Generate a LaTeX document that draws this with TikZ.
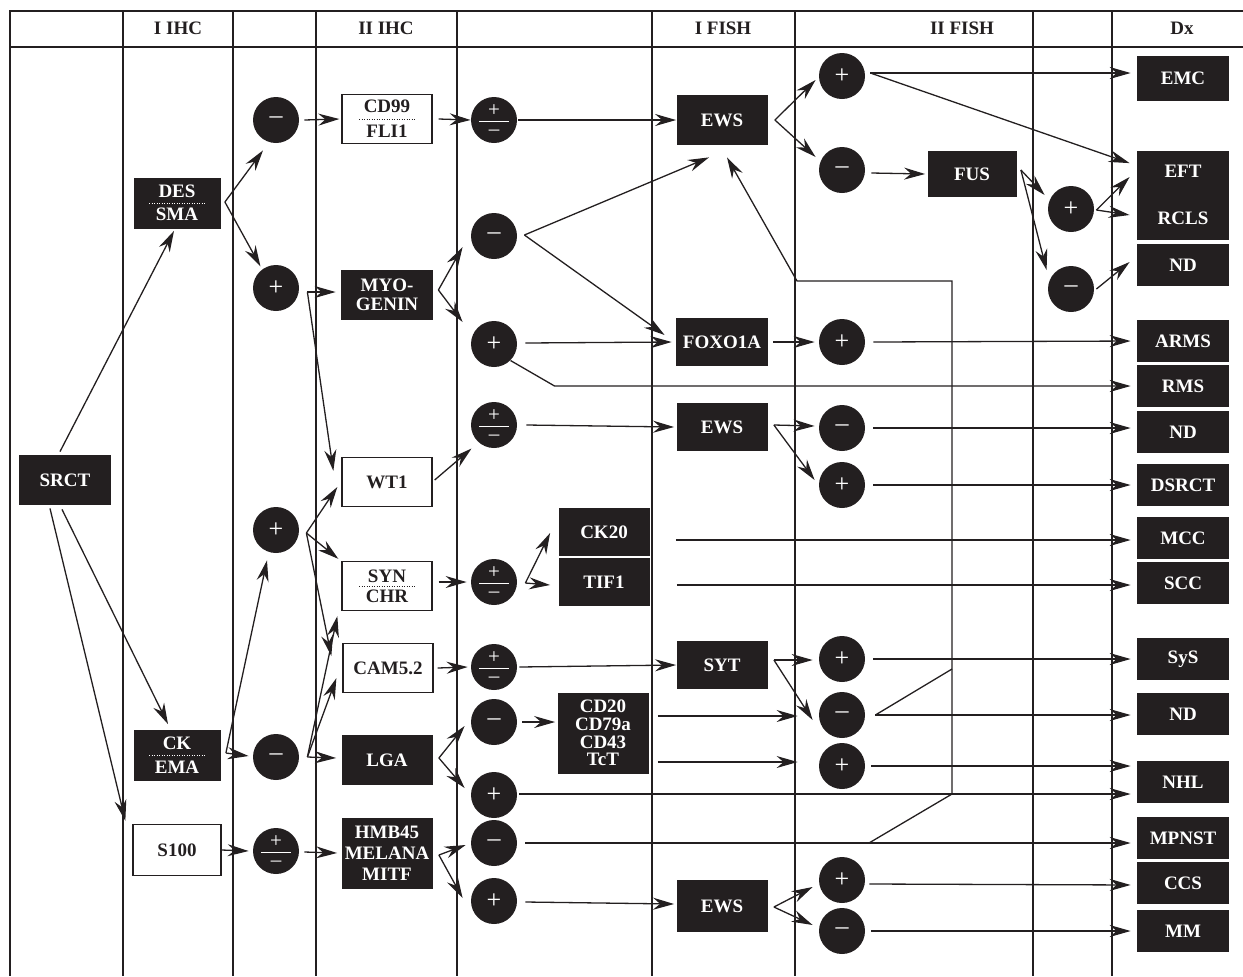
\documentclass[tikz,border=0pt]{standalone}
\usepackage{fontspec}
\setmainfont{Liberation Serif}
\usepackage{tikz}
\usetikzlibrary{arrows.meta,calc}
\definecolor{dxInk}{HTML}{231F20}
\newcommand{\pmsym}{\vbox{\fontsize{10.5}{10.5}\selectfont
  \hbox to 15pt{\hss+\hss}\kern2.2pt\hrule height 0.7pt\kern4.2pt
  \hbox to 15pt{\hss–\hss}}}

\begin{document}
\begin{tikzpicture}[x=0.5pt, y=-0.5pt,
  every node/.style={font=\fontsize{9.5}{11.5}\selectfont\bfseries, text=dxInk},
  blkbox/.style={fill=dxInk, text=white, minimum width=45.5pt, minimum height=25pt, inner sep=1pt, align=center},
  whtbox/.style={draw=dxInk, line width=0.65pt, minimum width=45pt, minimum height=24.5pt, inner sep=1pt, align=center},
  dxbox/.style={blkbox, minimum width=46pt, minimum height=21pt},
  sgn/.style={circle, fill=dxInk, text=white, minimum size=23pt, inner sep=0pt, font=\fontsize{13}{13}\selectfont},
  ln/.style={draw=dxInk, line width=0.65pt},
  arr/.style={ln, -{Stealth[length=10.5pt, width=6pt, inset=3.5pt]}},
  todx/.style={arr, shorten >=3pt},
  colline/.style={draw=dxInk, line width=0.75pt},
  dotsep/.style={line width=0.5pt, dash pattern=on 0.5pt off 0.75pt}]
  \useasboundingbox (0,0) rectangle (1243,976);

  % Column grid
  \draw[colline] (1243,11) -- (10,11) -- (10,976);
  \draw[colline] (10,47) -- (1243,47);
  \foreach \cx in {123,233,316,457,652,795,1033,1112}
    \draw[colline] (\cx,11) -- (\cx,976);

  % Column heads
  \node (hA) at (178,28) {I IHC};
  \node (hB) at (386,28) {II IHC};
  \node (hC) at (723,28) {I FISH};
  \node (hD) at (962,28) {II FISH};
  \node (hE) at (1182,28) {Dx};

  % Start and I IHC
  \node[blkbox, minimum width=46pt] (srct) at (65,480) {SRCT};
  \node[blkbox, minimum width=43.5pt, minimum height=25.5pt] (dessma) at (177,203) {DES\\SMA};
  \node[blkbox, minimum width=43.5pt, minimum height=25.5pt] (ckema) at (177,755) {CK\\[0.5pt]EMA};
  \node[whtbox, minimum width=44pt, minimum height=25.5pt] (s100) at (177,850) {S100};
  \draw[white, dotsep] ($(dessma.center)+(-28,0)$) -- ($(dessma.center)+(28,0)$);
  \draw[white, dotsep] ($(ckema.center)+(-28,0)$) -- ($(ckema.center)+(28,0)$);

  % First results
  \node[sgn] (mA) at (276,120) {–};
  \node[sgn] (pA) at (276,288) {+};
  \node[sgn] (pB) at (276,530) {+};
  \node[sgn] (mB) at (276,757) {–};
  \node[sgn] (pmA) at (276,851) {\pmsym};

  % II IHC
  \node[whtbox] (cdfli) at (387,119) {CD99\\[1pt]FLI1};
  \node[blkbox, minimum width=46pt] (myo) at (387,295) {MYO-\\[-2pt]GENIN};
  \node[whtbox] (wt) at (387,482) {WT1};
  \node[whtbox] (synchr) at (387,586) {SYN\\[-1.5pt]CHR};
  \node[whtbox] (cam) at (388,668) {CAM5.2};
  \node[blkbox] (lga) at (387,760) {LGA};
  \node[blkbox, minimum height=35.5pt] (hmb) at (387,853) {HMB45\\[-1pt]MELANA\\[-1pt]MITF};
  \draw[dxInk, dotsep] ($(cdfli.center)+(-28,0)$) -- ($(cdfli.center)+(28,0)$);
  \draw[dxInk, dotsep] ($(synchr.center)+(-28,0)$) -- ($(synchr.center)+(28,0)$);

  % Second results
  \node[sgn] (pmB) at (494,120) {\pmsym};
  \node[sgn] (mC) at (494,236) {–};
  \node[sgn] (pC) at (494,344) {+};
  \node[sgn] (pmC) at (494,425) {\pmsym};
  \node[sgn] (pmD) at (494,582) {\pmsym};
  \node[sgn] (pmE) at (494,667) {\pmsym};
  \node[sgn] (mD) at (494,722) {–};
  \node[sgn] (pD) at (494,795) {+};
  \node[sgn] (mE) at (494,843) {–};
  \node[sgn] (pE) at (494,901) {+};
  \node[blkbox, minimum height=24pt] (ckz) at (604,532) {CK20};
  \node[blkbox, minimum height=24pt] (tif) at (604,582) {TIF1};
  \node[blkbox, minimum height=40.5pt] (cdz) at (603,733) {CD20\\[-2.7pt]CD79a\\[-2.7pt]CD43\\[-2.7pt]TcT};

  % I FISH
  \node[blkbox] (ewsA) at (722,120) {EWS};
  \node[blkbox, minimum width=46pt, minimum height=24pt] (foxo) at (722,342) {FOXO1A};
  \node[blkbox, minimum height=24pt] (ewsB) at (722,427) {EWS};
  \node[blkbox, minimum height=24pt] (syt) at (722,665) {SYT};
  \node[blkbox, minimum height=26pt] (ewsC) at (722,906) {EWS};

  % II FISH
  \node[sgn] (pF) at (842,76) {+};
  \node[sgn] (mF) at (842,170) {–};
  \node[blkbox, minimum width=44.5pt, minimum height=23pt] (fus) at (972,174) {FUS};
  \node[sgn] (pG) at (842,342) {+};
  \node[sgn] (mG) at (842,428) {–};
  \node[sgn] (pH) at (842,485) {+};
  \node[sgn] (pI) at (842,659) {+};
  \node[sgn] (mH) at (842,715) {–};
  \node[sgn] (pJ) at (842,766) {+};
  \node[sgn] (pK) at (842,880) {+};
  \node[sgn] (mI) at (842,931) {–};
  \node[sgn] (pL) at (1071,209) {+};
  \node[sgn] (mJ) at (1071,289) {–};

  % Dx
  \node[dxbox, minimum height=22.5pt] (emc) at (1183,78) {EMC};
  \node[dxbox, minimum height=44.5pt] (eft) at (1183,195) {EFT\\[12pt]RCLS};
  \node[dxbox] (ndA) at (1183,265) {ND};
  \node[dxbox] (arms) at (1183,341) {ARMS};
  \node[dxbox] (rms) at (1183,386) {RMS};
  \node[dxbox] (ndB) at (1183,432) {ND};
  \node[dxbox] (dsrct) at (1183,485) {DSRCT};
  \node[dxbox] (mcc) at (1183,538) {MCC};
  \node[dxbox] (scc) at (1183,583) {SCC};
  \node[dxbox] (sys) at (1183,659) {SyS};
  \node[dxbox] (ndC) at (1183,714) {ND};
  \node[dxbox] (nhl) at (1183,782) {NHL};
  \node[dxbox] (mpnst) at (1183,838) {MPNST};
  \node[dxbox] (ccs) at (1183,883) {CCS};
  \node[dxbox] (mm) at (1183,931) {MM};

  % From SRCT
  \draw[arr] ($(srct.north)+(-5,-3)$) -- ($(dessma.south)+(-3,2)$);
  \draw[arr] ($(srct.south)+(-3,4)$) -- ($(ckema.north)+(-9,-5)$);
  \draw[arr] ($(srct.south)+(-15,3)$) -- ($(s100.north west)+(-7,-3)$);

  % I IHC to first results
  \coordinate (dsF) at ($(dessma.east)+(4,-1)$);
  \draw[arr] (dsF) -- ($(mA.south)+(-13,7)$);
  \draw[arr] (dsF) -- ($(pA.north west)+(1,-5)$);
  \coordinate (ceF) at ($(ckema.east)+(5,-2)$);
  \draw[arr] (ceF) -- ($(pB.south)+(-9,7)$);
  \draw[arr] (ceF) -- ($(mB.west)+(-4,-1)$);
  \draw[arr] (s100.east) -- ($(pmA.west)+(-4,0)$);

  % First results to II IHC
  \draw[arr] ($(mA.east)+(5,0)$) -- ($(cdfli.west)+(-2,0)$);
  \coordinate (paF) at ($(pA.east)+(8,4)$);
  \draw[arr] (paF) -- ($(myo.west)+(-5,-3)$);
  \draw[arr] (paF) -- ($(wt.north west)+(-8,14)$);
  \coordinate (pbF) at ($(pB.east)+(7,3)$);
  \draw[arr] (pbF) -- ($(wt.west)+(-4,5)$);
  \draw[arr] (pbF) -- ($(synchr.north west)+(-3,-2)$);
  \draw[arr] (pbF) -- ($(cam.west)+(-11,-12)$);
  \coordinate (mbF) at ($(mB.east)+(8,0)$);
  \draw[arr] (mbF) -- ($(synchr.south west)+(-4,5)$);
  \draw[arr] (mbF) -- ($(cam.south west)+(-6,-15)$);
  \draw[arr] (mbF) -- ($(lga.west)+(-5,-2)$);
  \draw[arr] ($(pmA.east)+(5,1)$) -- ($(hmb.west)+(-4,0)$);

  % II IHC to second results
  \draw[arr] ($(cdfli.east)+(6,0)$) -- (pmB.west);
  \coordinate (myF) at ($(myo.east)+(5,-5)$);
  \draw[arr] (myF) -- ($(mC.west)+(-8,11)$);
  \draw[arr] (myF) -- ($(pC.west)+(-8,-22)$);
  \draw[arr] ($(wt.east)+(2,-2)$) -- ($(pmC.south west)+(-6,7)$);
  \draw[arr] ($(synchr.east)+(6,-4)$) -- ($(pmD.west)+(-4,0)$);
  \draw[arr] ($(cam.east)+(4,0)$) -- ($(pmE.west)+(-3,0)$);
  \coordinate (lgF) at ($(lga.east)+(6,-2)$);
  \draw[arr] (lgF) -- ($(mD.west)+(-6,4)$);
  \draw[arr] (lgF) -- ($(pD.west)+(-6,-7)$);
  \coordinate (hmF) at ($(hmb.east)+(6,2)$);
  \draw[arr] (hmF) -- ($(mE.west)+(-5,2)$);
  \draw[arr] (hmF) -- ($(pE.west)+(-8,-3)$);

  % Second results to I FISH
  \draw[arr] ($(pmB.east)+(1,0)$) -- (ewsA.west);
  \coordinate (mcF) at ($(mC.east)+(7,-1)$);
  \draw[arr] (mcF) -- ($(ewsA.south)+(-13,12)$);
  \draw[arr] (mcF) -- ($(foxo.west)+(-11,-7)$);
  \draw[arr] ($(pC.east)+(8,-1)$) -- ($(foxo.west)+(-4,0)$);
  \coordinate (rmsBend) at ($(pC.south east)+(44,0)$);
  \draw[todx] (pC.south east) -- (rmsBend |- rms.west) -- (rms.west);
  \draw[arr] ($(pmC.east)+(9,0)$) -- ($(ewsB.west)+(-2,0)$);
  \coordinate (pdF) at ($(pmD.east)+(8,1)$);
  \draw[arr] (pdF) -- ($(ckz.west)+(-8,1)$);
  \draw[arr] (pdF) -- ($(tif.west)+(-8,3)$);
  \draw[arr] ($(pmE.east)+(2,0)$) -- (syt.west);
  \draw[arr] ($(mD.east)+(5,0)$) -- ($(cdz.west |- mD)+(-2,0)$);
  \draw[todx] ($(pD.east)+(2,-1)$) -- ($(nhl.west |- pD)+(0,-1)$);
  \draw[todx] ($(mE.east)+(8,0)$) -- (mpnst.west |- mE);
  \draw[arr] ($(pE.east)+(8,1)$) -- ($(ewsC.west)+(-2,-2)$);

  % I FISH to II FISH
  \coordinate (eaF) at ($(ewsA.east)+(7,0)$);
  \draw[arr] (eaF) -- ($(pF.west)+(-3,4)$);
  \draw[arr] (eaF) -- ($(mF.west)+(-3,-13)$);
  \draw[arr] ($(foxo.east)+(5,0)$) -- ($(pG.west)+(-4,0)$);
  \coordinate (ebF) at ($(ewsB.east)+(6,-2)$);
  \draw[arr] (ebF) -- ($(mG.west)+(-4,-2)$);
  \draw[arr] (ebF) -- ($(pH.west)+(-4,-5)$);
  \coordinate (syF) at ($(syt.east)+(6,-5)$);
  \draw[arr] (syF) -- ($(pI.west)+(-6,1)$);
  \draw[arr] (syF) -- ($(mH.west)+(-6,5)$);
  \draw[arr] ($(cdz.east |- mH)+(9,1)$) -- ($(mH.west)+(-21,1)$);
  \draw[arr] ($(cdz.east |- pJ)+(9,-4)$) -- ($(pJ.west)+(-21,-4)$);
  \coordinate (ecF) at ($(ewsC.east)+(6,1)$);
  \draw[arr] (ecF) -- ($(pK.west)+(-6,7)$);
  \draw[arr] (ecF) -- ($(mI.west)+(-6,-6)$);
  \draw[todx] ($(ckz.east)+(26,8)$) -- ($(mcc.west)+(0,2)$);
  \draw[todx] ($(tif.east)+(27,3)$) -- ($(scc.west)+(0,2)$);
  \draw[arr] ($(mF.east)+(6,3)$) -- ($(fus.west)+(-2,0)$);

  % Back to EWS
  \coordinate (bkA) at (869,843);
  \coordinate (bkB) at (952,794);
  \coordinate (bkC) at (952,281);
  \coordinate (bkD) at (797,281);
  \coordinate (bkE) at (952,669);
  \draw[arr] (bkA) -- (bkB) -- (bkC) -- (bkD) -- ($(ewsA.south)+(5,12)$);
  \draw[ln] ($(mH.east)+(10,0)$) -- (bkE);

  % II FISH to Dx
  \draw[todx] ($(pF.east)+(5,-3)$) -- ($(emc.west)+(0,-5)$);
  \draw[arr] ($(pF.east)+(5,-3)$) -- ($(eft.north west)+(-7,13)$);
  \coordinate (fuF) at ($(fus.east)+(4,-4)$);
  \draw[arr] (fuF) -- ($(pL.west)+(-3,-14)$);
  \draw[arr] (fuF) -- ($(mJ.west)+(-1,-19)$);
  \coordinate (plF) at ($(pL.east)+(2,1)$);
  \draw[arr] (plF) -- ($(eft.west)+(-7,-18)$);
  \draw[arr] (plF) -- ($(eft.west)+(-7,20)$);
  \draw[arr] ($(mJ.east)+(2,0)$) -- ($(ndA.west)+(-7,-3)$);
  \draw[todx] ($(pG.east)+(8,0)$) -- (arms.west);
  \draw[todx] ($(mG.east)+(8,0)$) -- (ndB.west |- mG);
  \draw[todx] ($(pH.east)+(8,0)$) -- (dsrct.west |- pH);
  \draw[todx] ($(pI.east)+(8,0)$) -- (sys.west);
  \draw[todx] ($(mH.east)+(10,0)$) -- (ndC.west |- mH);
  \draw[todx] ($(pJ.east)+(6,0)$) -- (nhl.west |- pJ);
  \draw[todx] ($(pK.east)+(4,4)$) -- ($(ccs.west)+(0,2)$);
  \draw[todx] ($(mI.east)+(6,0)$) -- (mm.west);
\end{tikzpicture}
\end{document}
